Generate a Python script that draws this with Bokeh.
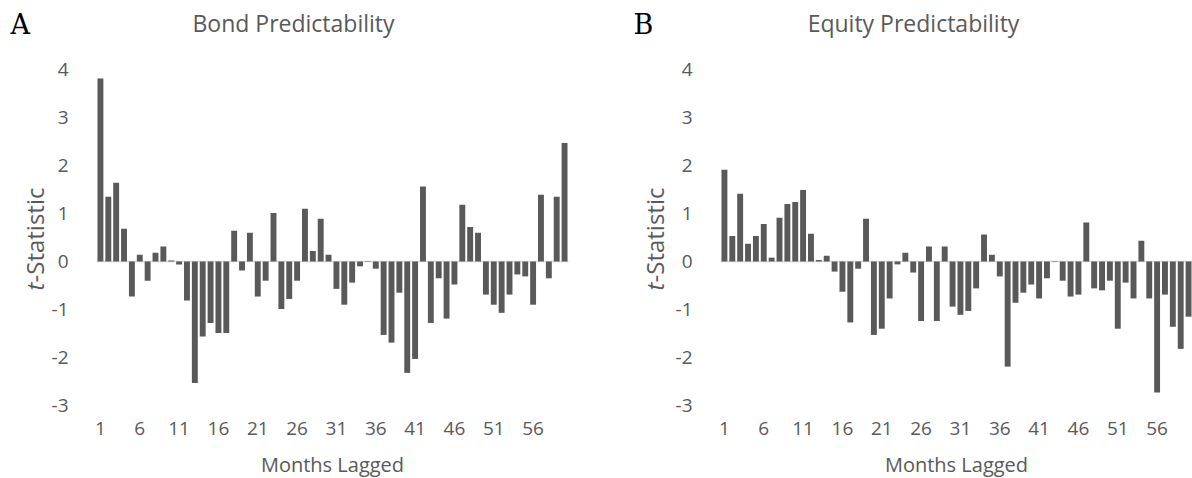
import math
from bokeh.plotting import figure
from bokeh.models import FixedTicker
from bokeh.core.properties import value
from bokeh.layouts import row
from bokeh.embed import file_html
from bokeh.resources import INLINE

months = list(range(1, 61))
x_ticks = [1, 6, 11, 16, 21, 26, 31, 36, 41, 46, 51, 56]
y_ticks = [-3, -2, -1, 0, 1, 2, 3, 4]

bond_t = [3.81, 1.35, 1.64, 0.68, -0.73, 0.14, -0.40, 0.18, 0.31, 0.02,
          -0.06, -0.81, -2.53, -1.56, -1.28, -1.49, -1.49, 0.64, -0.19, 0.60,
          -0.73, -0.40, 1.01, -0.99, -0.78, -0.40, 1.10, 0.22, 0.89, 0.14,
          -0.57, -0.90, -0.44, -0.10, 0.01, -0.15, -1.53, -1.69, -0.65, -2.32,
          -2.03, 1.56, -1.28, -0.35, -1.19, -0.48, 1.18, 0.72, 0.60, -0.69,
          -0.90, -1.07, -0.69, -0.27, -0.31, -0.90, 1.39, -0.35, 1.35, 2.47]

equity_t = [1.91, 0.53, 1.41, 0.37, 0.53, 0.78, 0.08, 0.91, 1.20, 1.24,
            1.49, 0.58, 0.03, 0.12, -0.21, -0.63, -1.27, -0.15, 0.89, -1.53,
            -1.40, -0.77, -0.06, 0.18, -0.23, -1.24, 0.31, -1.24, 0.31, -0.94,
            -1.11, -1.03, -0.56, 0.56, 0.14, -0.31, -2.19, -0.86, -0.65, -0.48,
            -0.77, -0.35, 0.01, -0.40, -0.73, -0.69, 0.81, -0.56, -0.60, -0.40,
            -1.40, -0.44, -0.77, 0.43, -0.77, -2.73, -0.69, -1.36, -1.82, -1.15]

GRAY = "#595959"
FONT = "Open Sans"
H = 478
X0, X1 = 0.5, 60.5
Y0, Y1 = -3, 4
PX_X = 472 / (X1 - X0)     # pixels per month
PX_Y = 336 / (Y1 - Y0)     # pixels per t unit
PLOT_TOP = 69              # pixel row of t = 4
PLOT_BOTTOM = 405          # pixel row of t = -3


def make_panel(letter, title, values, W, frame_left, title_cx, ylab_cx):
    xs = X0 - frame_left / PX_X
    xe = xs + W / PX_X
    ye = Y1 + PLOT_TOP / PX_Y
    ys = Y0 - (H - PLOT_BOTTOM) / PX_Y

    def px2x(px):
        return xs + px / PX_X

    def px2y(py):
        return ye - py / PX_Y

    p = figure(width=W, height=H, x_range=(xs, xe), y_range=(ys, ye),
               min_border_left=0, min_border_right=0, min_border_top=0, min_border_bottom=0,
               output_backend="svg", toolbar_location=None,
               background_fill_color="white", border_fill_color="white")
    p.outline_line_color = None
    p.xgrid.grid_line_color = None
    p.ygrid.grid_line_color = None

    # zero (category axis) line
    p.segment(x0=[X0], y0=[0], x1=[X1], y1=[0], line_color="#d9d9d9", line_width=1.5)
    p.vbar(x=months, top=values, width=0.75, color=GRAY, line_color=None)

    for ax in (p.xaxis, p.yaxis):
        ax.axis_line_color = None
        ax.major_tick_line_color = None
        ax.minor_tick_line_color = None
        ax.major_label_text_font = FONT
        ax.major_label_text_color = GRAY
        ax.major_label_text_font_size = "19px"
    p.xaxis.fixed_location = Y0
    p.yaxis.fixed_location = X0
    p.xaxis.bounds = (X0, X1)
    p.yaxis.bounds = (Y0, Y1)
    p.xaxis.ticker = FixedTicker(ticks=x_ticks)
    p.yaxis.ticker = FixedTicker(ticks=y_ticks)
    p.yaxis.major_label_overrides = {t: str(t) for t in y_ticks}
    p.xaxis.major_label_standoff = 10
    p.yaxis.major_label_standoff = 22
    p.xaxis.axis_label = "Months Lagged"
    p.xaxis.axis_label_text_font = FONT
    p.xaxis.axis_label_text_font_style = "normal"
    p.xaxis.axis_label_text_color = GRAY
    p.xaxis.axis_label_text_font_size = "20px"
    p.xaxis.axis_label_standoff = 13

    # panel letter
    p.text(x=[px2x(10)], y=[px2y(24)], text=[letter],
           text_font=value("DejaVu Serif"), text_font_size="27px",
           text_color="black", text_align="left", text_baseline="middle")
    # title
    p.text(x=[px2x(title_cx)], y=[px2y(22)], text=[title],
           text_font=value(FONT), text_font_size="23px",
           text_color=GRAY, text_align="center", text_baseline="middle")
    # y axis title: italic t followed by "-Statistic"
    p.text(x=[px2x(ylab_cx)], y=[px2y(290)], text=["t"], angle=math.pi / 2,
           text_font=value(FONT), text_font_size="24px", text_font_style="italic",
           text_color=GRAY, text_align="left", text_baseline="middle")
    p.text(x=[px2x(ylab_cx)], y=[px2y(282)], text=["-Statistic"], angle=math.pi / 2,
           text_font=value(FONT), text_font_size="24px",
           text_color=GRAY, text_align="left", text_baseline="middle")
    return p


p1 = make_panel("A", "Bond Predictability", bond_t, 623, 96, 293, 34)
p2 = make_panel("B", "Equity Predictability", equity_t, 569, 97, 290, 31)

layout = row(p1, p2, spacing=0)
open("out.html", "w").write(file_html(layout, INLINE))
